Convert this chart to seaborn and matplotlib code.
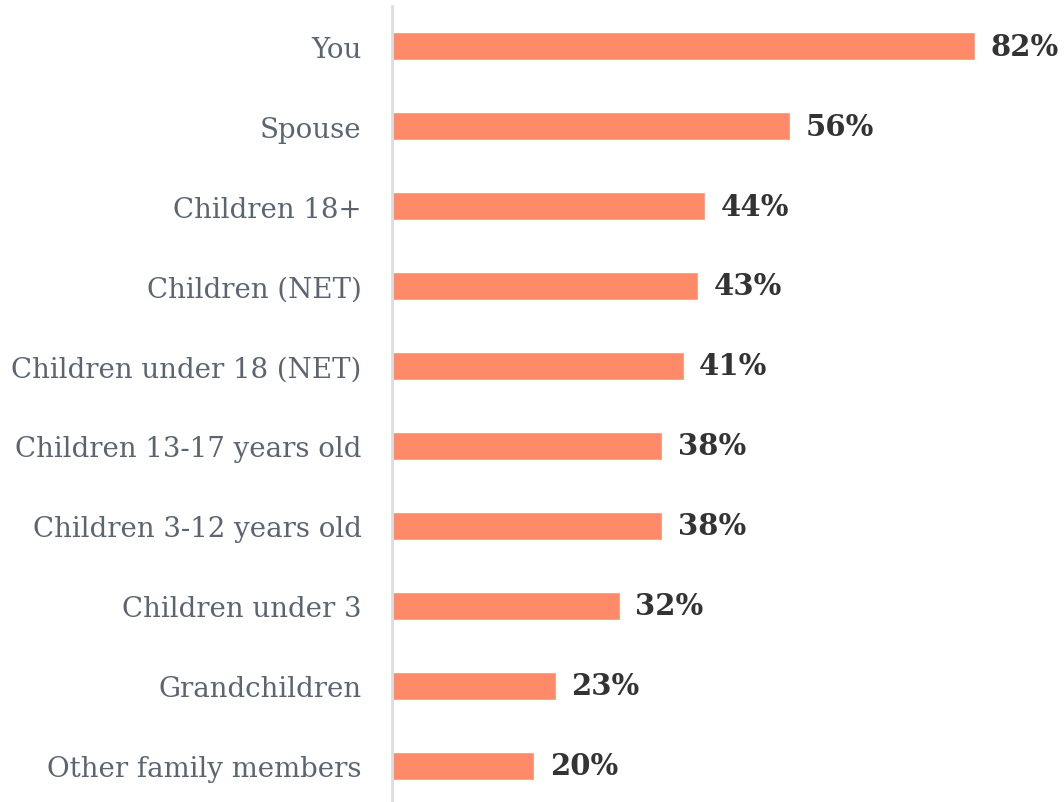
import matplotlib
matplotlib.use("Agg")
import matplotlib.pyplot as plt
import seaborn as sns
import pandas as pd

categories = ["You", "Spouse", "Children 18+", "Children (NET)", "Children under 18 (NET)",
              "Children 13-17 years old", "Children 3-12 years old", "Children under 3",
              "Grandchildren", "Other family members"]
values = [82, 56, 44, 43, 41, 38, 38, 32, 23, 20]

sns.set_theme(style="white")
plt.rcParams['font.family'] = ['DejaVu Serif']

df = pd.DataFrame({"cat": categories, "val": values})

fig = plt.figure(figsize=(10.64, 8.03), dpi=100)
ax = fig.add_axes([392/1064, 0, 1 - 392/1064, 1 - 7/803])
sns.barplot(data=df, x="val", y="cat", color="#FF8A6A", saturation=1, width=0.35, ax=ax, orient="h")

ax.set_xlim(0, (1064 - 392) / 7.11)
ax.set_ylim(len(categories) - 0.55, -0.5)
ax.set_xlabel("")
ax.set_ylabel("")
ax.set_xticks([])
for s in ["top", "right", "bottom"]:
    ax.spines[s].set_visible(False)
ax.spines["left"].set_color("#dddddd")
ax.spines["left"].set_linewidth(2)
ax.tick_params(axis="y", length=0, pad=22, labelsize=19.9, labelcolor="#5b6570")

for i, v in enumerate(values):
    ax.text(v + 2.2, i, f"{v}%", va="center", ha="left", fontsize=21,
            fontweight="bold", color="#333333")

fig.savefig("out.png", dpi=100)
